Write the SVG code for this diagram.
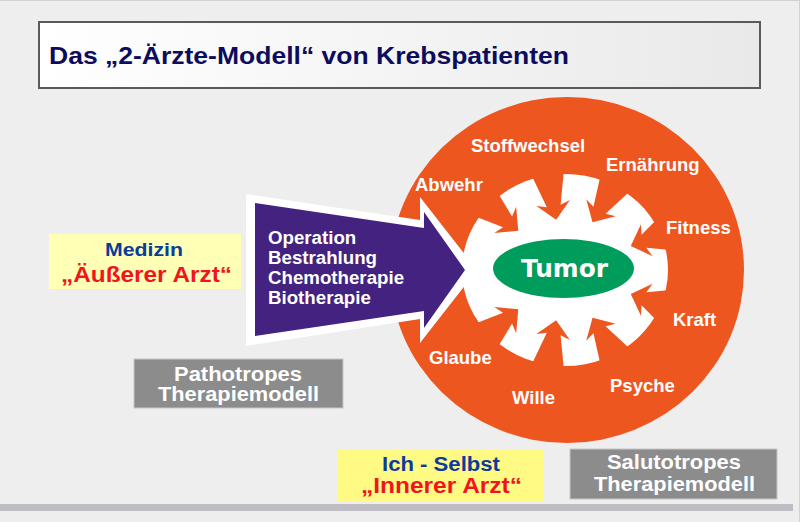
<svg xmlns="http://www.w3.org/2000/svg" width="800" height="522" viewBox="0 0 800 522">
<defs>
<linearGradient id="titleGrad" x1="0" y1="0" x2="1" y2="0">
<stop offset="0" stop-color="#ffffff"/>
<stop offset="1" stop-color="#e9e9e9"/>
</linearGradient>
<style>
text{font-family:"Liberation Sans",Arial,sans-serif;font-weight:bold}
.lbl{fill:#ffffff;font-size:18.5px}
.arr{fill:#ffffff;font-size:18.7px}
.gbox{fill:#8c8c8c;stroke:#c6c6c6;stroke-width:1}
.gtxt{fill:#ffffff;font-size:20px;text-anchor:middle}
.blue{fill:#0b3b9b;text-anchor:middle}
.red{fill:#f2141c;text-anchor:middle}
.gap{fill:#ee561f}
</style>
</defs>
<rect x="0" y="0" width="800" height="522" fill="#eeeeee"/>
<line x1="0" y1="0.5" x2="800" y2="0.5" stroke="#d2d2d2"/>
<line x1="799.5" y1="0" x2="799.5" y2="522" stroke="#d2d2d2"/>
<rect x="0" y="504" width="793" height="7" fill="#bdbdc3"/>

<g id="title">
<rect x="39" y="22" width="721" height="66" fill="url(#titleGrad)" stroke="#5a5a5a" stroke-width="2"/>
<text x="49" y="64" font-size="24" textLength="520" lengthAdjust="spacingAndGlyphs" fill="#0c0c5c">Das „2-Ärzte-Modell“ von Krebspatienten</text>
</g>

<g id="circle">
<ellipse cx="567" cy="270" rx="177" ry="173" fill="#ee561f"/>
<g id="gear">
<ellipse cx="565" cy="270" rx="103" ry="96" fill="#ffffff"/>
<g transform="translate(565,270)">
<polygon class="gap" transform="rotate(20)" points="70,0 87,-17 84,-7 118,-23 118,23 84,7 87,17"/>
<polygon class="gap" transform="rotate(340)" points="70,0 87,-17 84,-7 118,-23 118,23 84,7 87,17"/>
<polygon class="gap" transform="rotate(60)" points="55,0 72,-17 69,-7 114,-21 114,21 69,7 72,17"/>
<polygon class="gap" transform="rotate(300)" points="55,0 72,-17 69,-7 114,-21 114,21 69,7 72,17"/>
<polygon class="gap" transform="rotate(100)" points="51,0 68,-17 65,-7 112,-20 112,20 65,7 68,17"/>
<polygon class="gap" transform="rotate(260)" points="51,0 68,-17 65,-7 112,-20 112,20 65,7 68,17"/>
<polygon class="gap" transform="rotate(140)" points="61,0 78,-17 75,-7 116,-21 116,21 75,7 78,17"/>
<polygon class="gap" transform="rotate(220)" points="61,0 78,-17 75,-7 116,-21 116,21 75,7 78,17"/>
</g>
</g>
<g id="labels">
<text class="lbl" x="471" y="152">Stoffwechsel</text>
<text class="lbl" x="606" y="171">Ernährung</text>
<text class="lbl" x="415" y="191">Abwehr</text>
<text class="lbl" x="666" y="234">Fitness</text>
<text class="lbl" x="673" y="326">Kraft</text>
<text class="lbl" x="610" y="392">Psyche</text>
<text class="lbl" x="429" y="364">Glaube</text>
<text class="lbl" x="512" y="404">Wille</text>
</g>
</g>

<g id="tumor">
<ellipse cx="563.5" cy="268.5" rx="70.5" ry="29.5" fill="#009c5b"/>
<text x="564.5" y="277" text-anchor="middle" font-size="24" textLength="87" lengthAdjust="spacingAndGlyphs" fill="#ffffff" style="font-family:'DejaVu Sans','Liberation Sans',sans-serif">Tumor</text>
</g>

<g id="therapie">
<polygon points="246,194 420,220 420,197 477,270 420,343 420,319 246,346" fill="#ffffff"/>
<polygon points="255,203 424,228 424,212 465,270 424,328 424,311 255,336" fill="#44227f"/>
<text class="arr" x="268" y="244">Operation</text>
<text class="arr" x="268" y="264">Bestrahlung</text>
<text class="arr" x="268" y="284">Chemotherapie</text>
<text class="arr" x="268" y="304">Biotherapie</text>
</g>

<g id="medizin">
<rect x="49" y="234" width="192" height="55" fill="#ffffb6"/>
<text class="blue" x="144" y="256" font-size="19" textLength="78" lengthAdjust="spacingAndGlyphs">Medizin</text>
<text class="red" x="146.5" y="282" font-size="22" textLength="171" lengthAdjust="spacingAndGlyphs">„Äußerer Arzt“</text>
</g>

<g id="pathotropes">
<rect class="gbox" x="134" y="359" width="209" height="49"/>
<text class="gtxt" x="238" y="381" textLength="128" lengthAdjust="spacingAndGlyphs">Pathotropes</text>
<text class="gtxt" x="238.5" y="401" textLength="161" lengthAdjust="spacingAndGlyphs">Therapiemodell</text>
</g>

<g id="ich-selbst">
<rect x="337" y="450" width="207" height="51" fill="#fffa84"/>
<text class="blue" x="441" y="471" font-size="20" textLength="118" lengthAdjust="spacingAndGlyphs">Ich - Selbst</text>
<text class="red" x="441.5" y="493" font-size="21.5" textLength="161" lengthAdjust="spacingAndGlyphs">„Innerer Arzt“</text>
</g>

<g id="salutotropes">
<rect class="gbox" x="570" y="449" width="207" height="50"/>
<text class="gtxt" x="674" y="469" textLength="134" lengthAdjust="spacingAndGlyphs">Salutotropes</text>
<text class="gtxt" x="674.5" y="491" textLength="161" lengthAdjust="spacingAndGlyphs">Therapiemodell</text>
</g>

<g id="connectors"/>
</svg>
